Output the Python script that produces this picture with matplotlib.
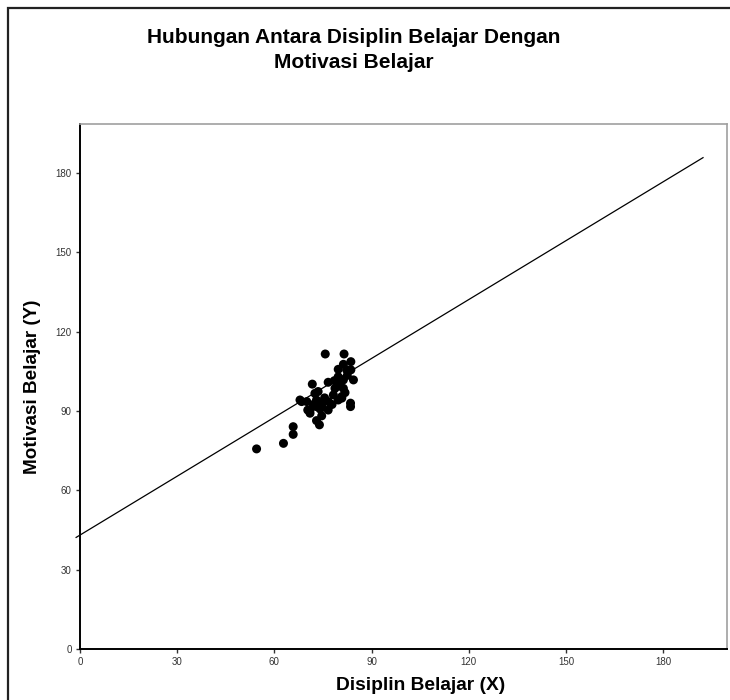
import matplotlib
matplotlib.use("Agg")
import matplotlib.pyplot as plt
from matplotlib.patches import Rectangle

plt.rcParams['font.family'] = ['Liberation Sans', 'DejaVu Sans']

title = "Hubungan Antara Disiplin Belajar Dengan\nMotivasi Belajar"
x_label = "Disiplin Belajar (X)"
y_label = "Motivasi Belajar (Y)"

disiplin = [54.5, 62.8, 65.8, 65.8, 68.4, 70.3,
            75.7, 81.5, 81.3, 83.6, 83.6, 82.3, 79.7, 84.4, 79.7, 76.6,
            71.7, 79.7, 81.3, 81.3, 78.7, 73.5, 72.5, 80.8, 78.2, 67.9,
            70.0, 73.0, 75.1, 76.6, 79.7, 80.8, 83.5, 83.5, 73.0, 74.6,
            71.0, 76.6, 74.1, 71.0, 74.6, 73.0, 73.9, 82.5, 80.2, 77.8,
            72.0, 75.5, 81.8, 78.5]
motivasi = [75.7, 77.8, 81.2, 84.1, 93.6, 90.4,
            111.6, 111.6, 107.7, 108.7, 105.6, 105.6, 105.8, 101.8, 103.0, 100.9,
            100.2, 100.5, 101.8, 98.6, 98.6, 97.4, 96.7, 95.5, 96.1, 94.2,
            93.6, 94.2, 93.6, 93.6, 94.2, 94.9, 93.0, 91.7, 91.7, 91.9,
            90.4, 90.4, 90.8, 89.2, 88.2, 86.4, 84.8, 103.5, 99.5, 92.5,
            92.5, 95.0, 97.0, 101.5]

line_x = [-1.2, 192.3]
intercept = 43.1
slope = 0.7425

x_ticks = [0, 30, 60, 90, 120, 150, 180]
y_ticks = [0, 30, 60, 90, 120, 150, 180]

fig = plt.figure(figsize=(7.3, 7.0), dpi=100)
ax = fig.add_axes([80/730, 1-649/700, (727-80)/730, (649-123.5)/700])

ax.scatter(disiplin, motivasi, s=42, color='black', edgecolors='none', zorder=3)
ax.plot(line_x, [intercept + slope*v for v in line_x], color='black', lw=0.9,
        clip_on=False, zorder=2)

ax.set_xlim(0, 199.7)
ax.set_ylim(0, 198.8)
ax.set_xticks(x_ticks)
ax.set_yticks(y_ticks)
ax.tick_params(axis='both', direction='out', length=3, width=1, labelsize=7,
               labelcolor='#333333', color='#333333', pad=3)

for side in ['left', 'bottom']:
    ax.spines[side].set_color('black')
    ax.spines[side].set_linewidth(1.4)
for side in ['top', 'right']:
    ax.spines[side].set_color('#a0a0a0')
    ax.spines[side].set_linewidth(1.2)

ax.set_xlabel(x_label, fontsize=13.8, fontweight='bold')
ax.xaxis.set_label_coords((420.7-80)/647, -(677-649)/525.5)
ax.set_ylabel(y_label, fontsize=13.6, fontweight='bold')
ax.yaxis.set_label_coords(-(80-41)/647, 0.5)

fig.text(354/730, 1-50/700, title, ha='center', va='center', fontsize=15,
         fontweight='bold', linespacing=1.42)

# outer frame
fig.patches.append(Rectangle((7.5/730, -0.5), 2.0, 0.5 + 1 - 7.5/700,
                             transform=fig.transFigure, fill=False,
                             edgecolor='#222222', linewidth=1.6, clip_on=False))

fig.savefig("out.png", dpi=100, facecolor='white')
